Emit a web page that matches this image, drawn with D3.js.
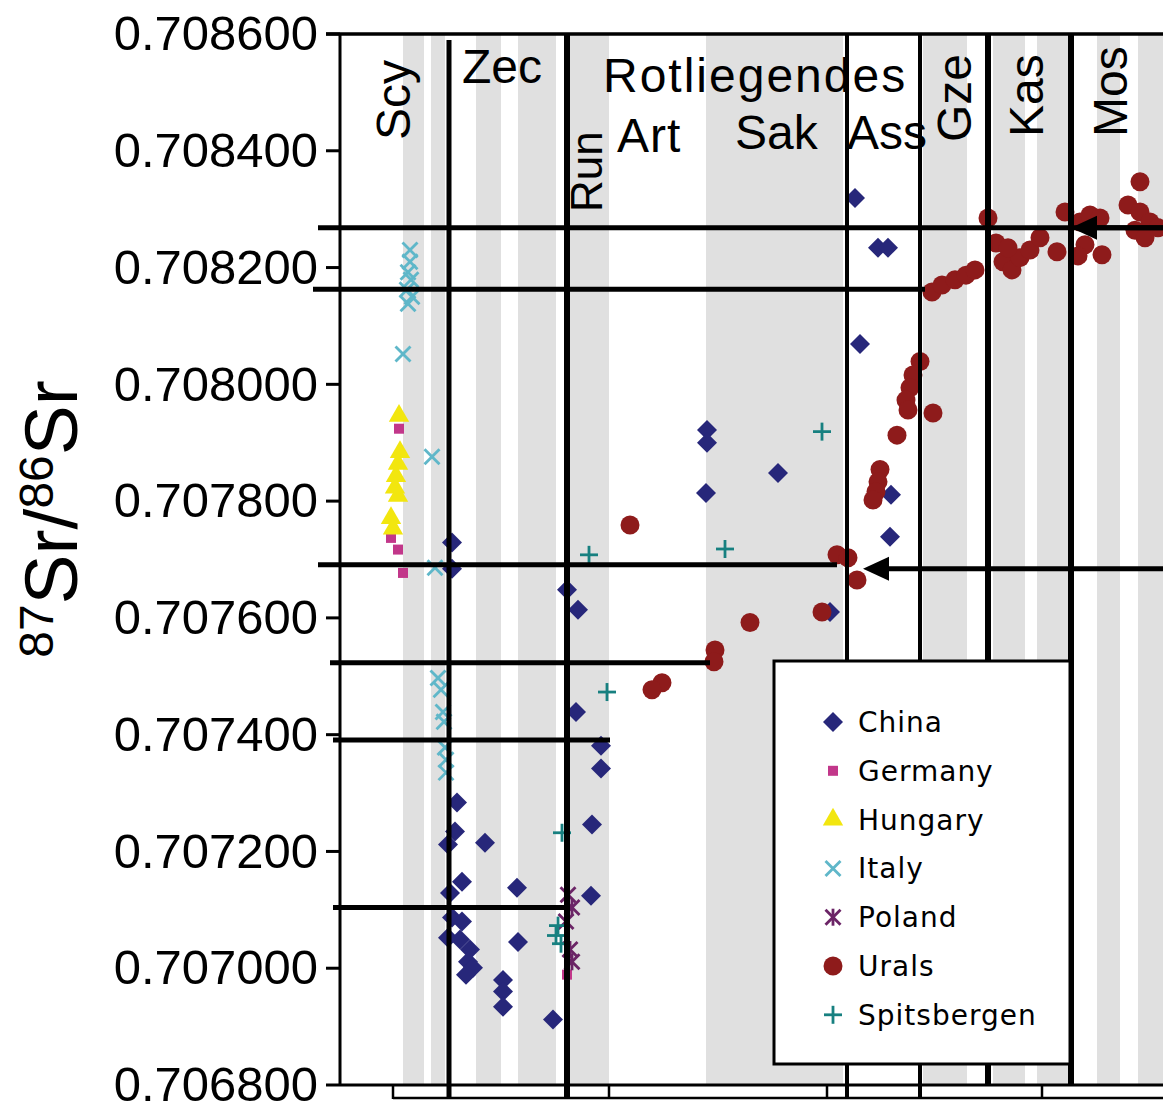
<!DOCTYPE html>
<html>
<head>
<meta charset="utf-8">
<script src="https://cdn.jsdelivr.net/npm/d3@7"></script>
<style>
  body { margin: 0; background: #fff; }
  svg { display: block; font-family: "Liberation Sans", Arial, sans-serif; }
</style>
</head>
<body>
<div id="chart"></div>
<script>
// 87Sr/86Sr curve across Carboniferous - Triassic stages, by region
// x is an age-like axis (Ma, older to the right), y is the Sr ratio

const yTicks = [0.7068, 0.7070, 0.7072, 0.7074, 0.7076, 0.7078, 0.7080, 0.7082, 0.7084, 0.7086];

// [age, ratio]
const china = [
    [301.5, 0.708319], [303.8, 0.708234], [304.8, 0.708234], [302.0, 0.708069],
    [286.7, 0.707922], [286.7, 0.707900], [286.6, 0.707814], [293.8, 0.707848],
    [305.1, 0.707811], [305.0, 0.707739], [261.2, 0.707729], [261.2, 0.707684],
    [272.7, 0.707648], [273.8, 0.707614], [273.6, 0.707439], [276.1, 0.707381],
    [276.1, 0.707342], [261.7, 0.707284], [261.5, 0.707234], [260.8, 0.707212],
    [264.5, 0.707215], [275.2, 0.707246], [262.2, 0.707148], [261.0, 0.707129],
    [267.7, 0.707138], [275.1, 0.707124], [261.2, 0.707087], [262.2, 0.707080],
    [260.8, 0.707052], [262.0, 0.707049], [263.0, 0.707032], [262.8, 0.707011],
    [263.3, 0.707001], [262.6, 0.706989], [267.8, 0.707045], [266.3, 0.706980],
    [266.3, 0.706960], [266.3, 0.706934], [271.3, 0.706912], [299.0, 0.707610]
];
const germany = [
    [255.9, 0.707924], [255.1, 0.707737], [255.8, 0.707717], [256.3, 0.707677],
    [272.7, 0.706989]
];
const hungary = [
    [255.9, 0.707946], [256.0, 0.707884], [255.8, 0.707864], [255.6, 0.707843],
    [255.5, 0.707823], [255.8, 0.707809], [255.1, 0.707771], [255.3, 0.707753]
];
const italy = [
    [257.0, 0.708230], [257.0, 0.708210], [256.8, 0.708192], [257.1, 0.708179],
    [256.7, 0.708162], [257.2, 0.708150], [256.8, 0.708138], [256.3, 0.708052],
    [259.2, 0.707876], [259.5, 0.707686], [259.8, 0.707497], [260.1, 0.707477],
    [260.3, 0.707439], [260.4, 0.707422], [260.5, 0.707378], [260.6, 0.707357],
    [260.6, 0.707335]
];
const poland = [
    [272.8, 0.707126], [273.2, 0.707104], [272.6, 0.707080], [273.0, 0.707032],
    [273.2, 0.707011]
];
const urals = [
    [279.0, 0.707759], [287.5, 0.707545], [287.4, 0.707525], [282.2, 0.707489],
    [281.2, 0.707477], [291.0, 0.707592], [298.2, 0.707610], [299.7, 0.707708],
    [300.8, 0.707703], [301.7, 0.707665], [304.0, 0.707854], [303.8, 0.707833],
    [303.6, 0.707816], [303.3, 0.707802], [305.7, 0.707913], [308.0, 0.708039],
    [307.3, 0.708016], [307.0, 0.707994], [306.6, 0.707973], [306.8, 0.707956],
    [309.3, 0.707951], [309.2, 0.708158], [310.2, 0.708170], [311.5, 0.708179],
    [312.6, 0.708187], [313.5, 0.708196], [314.8, 0.708285], [315.6, 0.708242],
    [316.3, 0.708210], [317.2, 0.708196], [318.0, 0.708217], [319.0, 0.708230],
    [320.0, 0.708251], [316.8, 0.708234], [321.7, 0.708227], [322.5, 0.708295],
    [324.0, 0.708278], [325.0, 0.708290], [326.0, 0.708285], [324.5, 0.708239],
    [323.8, 0.708220], [326.2, 0.708222], [330.0, 0.708347], [328.8, 0.708307],
    [330.0, 0.708295], [331.0, 0.708278], [329.5, 0.708264], [331.8, 0.708268],
    [330.5, 0.708251]
];
const spitsbergen = [
    [298.2, 0.707919], [288.5, 0.707718], [274.9, 0.707708], [276.7, 0.707473],
    [272.2, 0.707232], [271.8, 0.707073], [271.6, 0.707056], [272.1, 0.707042]
];

const seriesNames = ['China', 'Germany', 'Hungary', 'Italy', 'Poland', 'Urals', 'Spitsbergen'];
const seriesData = [china, germany, hungary, italy, poland, urals, spitsbergen];
const seriesKinds = ['diamond', 'square', 'triangle', 'x', 'asterisk', 'circle', 'plus'];
const seriesColors = ['#27277a', '#c2378a', '#f2e60f', '#5fb7c9', '#6b2466', '#8e1b1b', '#178080'];

// shaded sub-stage bands [from, to]
const bands = [
    [256.3, 258.4], [259.1, 260.5], [263.6, 266.1], [267.8, 271.6], [273.0, 276.9],
    [286.6, 300.3], [308.3, 312.7], [315.3, 318.5], [319.7, 322.8], [325.7, 328.0],
    [329.8, 332.3]
];
// stage boundaries [age, width]
const boundaries = [[260.9, 5], [272.7, 6], [300.7, 4], [308.0, 4], [314.8, 6], [323.1, 6]];
// ticks of the lower time strip
const stripTicks = [255.3, 260.9, 272.7, 276.9, 298.7, 300.7, 308.0, 320.2];

// reference ratio lines [ratio, fromAge, toAge]
const refLines = [
    [0.708268, 247.8, 332.3],
    [0.708163, 247.3, 308.5],
    [0.707691, 247.8, 299.7],
    [0.707523, 249.0, 287.0],
    [0.707391, 249.3, 277.0],
    [0.707104, 249.3, 272.5]
];
// arrows [ratio, tipAge, fromAge]
const arrows = [
    [0.708268, 323.1, 332.3],
    [0.707684, 302.3, 332.3]
];

// stage labels
const hLabels = [['Zec', 262.2, 83, 0], ['Rotliegendes', 276.3, 92, 2], ['Art', 277.7, 152, 1], ['Sak', 289.5, 149, 0], ['Ass', 300.7, 149, 0]];
const vLabels = [['Scy', 257.0, 140, 48], ['Run', 276.2, 212, 44], ['Gze', 313.1, 142, 48], ['Kas', 320.3, 137, 48], ['Mos', 328.7, 137, 48]];

const width = 1163, height = 1106;
const plotLeft = 340, plotRight = 1163, plotTop = 34, plotBottom = 1085;

const svg = d3.select('#chart').append('svg')
    .attr('width', width)
    .attr('height', height);

svg.append('rect').attr('width', width).attr('height', height).attr('fill', '#fff');

const x = d3.scaleLinear().domain([250, 332.3]).range([plotLeft, plotRight]);
const y = d3.scaleLinear().domain([0.7068, 0.7086]).range([plotBottom, plotTop]);

// Gray bands
svg.append('g').selectAll('rect')
    .data(bands)
    .enter().append('rect')
    .attr('x', d => x(d[0]))
    .attr('width', d => x(d[1]) - x(d[0]))
    .attr('y', plotTop)
    .attr('height', plotBottom - plotTop)
    .attr('fill', '#e0e0e0');

// Markers
function addMarker(g, kind, color) {
    if (kind === 'diamond') {
        g.append('path').attr('d', d3.symbol().type(d3.symbolSquare).size(200)())
            .attr('transform', 'rotate(45)').attr('fill', color);
    } else if (kind === 'square') {
        g.append('rect').attr('x', -5).attr('y', -5).attr('width', 10).attr('height', 10).attr('fill', color);
    } else if (kind === 'triangle') {
        g.append('path').attr('d', d3.symbol().type(d3.symbolTriangle).size(180)()).attr('fill', color);
    } else if (kind === 'circle') {
        g.append('circle').attr('r', 9.5).attr('fill', color);
    } else {
        const r = 7.5;
        let segs = [];
        if (kind === 'x' || kind === 'asterisk') segs = [[-r, -r, r, r], [-r, r, r, -r]];
        if (kind === 'asterisk') segs.push([0, -r - 1, 0, r + 1]);
        if (kind === 'plus') segs = [[-9, 0, 9, 0], [0, -9, 0, 9]];
        segs.forEach(s => {
            g.append('line')
                .attr('x1', s[0]).attr('y1', s[1]).attr('x2', s[2]).attr('y2', s[3])
                .attr('stroke', color).attr('stroke-width', 2.8);
        });
    }
}

seriesData.forEach((pts, i) => {
    svg.append('g').selectAll('g')
        .data(pts)
        .enter().append('g')
        .attr('transform', d => `translate(${x(d[0])},${y(d[1])})`)
        .each(function() { addMarker(d3.select(this), seriesKinds[i], seriesColors[i]); });
});

// Stage boundaries
svg.append('g').selectAll('line')
    .data(boundaries)
    .enter().append('line')
    .attr('x1', d => x(d[0])).attr('x2', d => x(d[0]))
    .attr('y1', (d, i) => i === 0 ? 40 : plotTop)
    .attr('y2', (d, i) => i < 4 ? 1098 : plotBottom)
    .attr('stroke', '#000')
    .attr('stroke-width', d => d[1]);

// Reference lines
svg.append('g').selectAll('line')
    .data(refLines)
    .enter().append('line')
    .attr('x1', d => x(d[1])).attr('x2', d => x(d[2]))
    .attr('y1', d => y(d[0])).attr('y2', d => y(d[0]))
    .attr('stroke', '#000')
    .attr('stroke-width', 5);

const arrowG = svg.append('g');
arrows.forEach(a => {
    const ty = y(a[0]), tx = x(a[1]);
    arrowG.append('line')
        .attr('x1', tx + 20).attr('x2', x(a[2]))
        .attr('y1', ty).attr('y2', ty)
        .attr('stroke', '#000').attr('stroke-width', 5);
    arrowG.append('path')
        .attr('d', `M${tx},${ty} L${tx + 26},${ty - 12} L${tx + 26},${ty + 12} Z`)
        .attr('fill', '#000');
});

// Axes frame
svg.append('line').attr('x1', plotLeft).attr('x2', plotLeft).attr('y1', plotTop).attr('y2', plotBottom)
    .attr('stroke', '#000').attr('stroke-width', 3);
svg.append('line').attr('x1', 326).attr('x2', plotRight).attr('y1', plotTop).attr('y2', plotTop)
    .attr('stroke', '#000').attr('stroke-width', 3.5);
svg.append('line').attr('x1', plotLeft).attr('x2', plotRight).attr('y1', plotBottom).attr('y2', plotBottom)
    .attr('stroke', '#000').attr('stroke-width', 3);

// Lower time strip
svg.append('line').attr('x1', x(stripTicks[0])).attr('x2', plotRight).attr('y1', 1098).attr('y2', 1098)
    .attr('stroke', '#000').attr('stroke-width', 2.5);
svg.append('g').selectAll('line')
    .data(stripTicks)
    .enter().append('line')
    .attr('x1', d => x(d)).attr('x2', d => x(d))
    .attr('y1', plotBottom).attr('y2', 1099)
    .attr('stroke', '#000').attr('stroke-width', 2.5);

// Y axis
const yAxis = svg.append('g');
yAxis.selectAll('line')
    .data(yTicks)
    .enter().append('line')
    .attr('x1', 326).attr('x2', plotLeft)
    .attr('y1', d => y(d)).attr('y2', d => y(d))
    .attr('stroke', '#000').attr('stroke-width', 3);
yAxis.selectAll('text')
    .data(yTicks)
    .enter().append('text')
    .attr('x', 318)
    .attr('y', d => y(d))
    .attr('dy', '0.33em')
    .attr('text-anchor', 'end')
    .attr('font-size', '49px')
    .attr('fill', '#000')
    .text(d3.format('.6f'));

// Y axis title
const title = svg.append('text')
    .attr('transform', 'translate(77,519) rotate(-90)')
    .attr('text-anchor', 'middle')
    .attr('font-size', '75px')
    .attr('fill', '#000');
title.append('tspan').attr('font-size', '48px').attr('dy', -24).text('87');
title.append('tspan').attr('dy', 24).text('Sr/');
title.append('tspan').attr('font-size', '48px').attr('dy', -24).text('86');
title.append('tspan').attr('dy', 24).text('Sr');

// Stage labels
svg.append('g').selectAll('text')
    .data(hLabels)
    .enter().append('text')
    .attr('x', d => x(d[1]))
    .attr('y', d => d[2])
    .attr('font-size', '48px')
    .attr('letter-spacing', d => d[3] + 'px')
    .attr('fill', '#000')
    .text(d => d[0]);

svg.append('g').selectAll('text')
    .data(vLabels)
    .enter().append('text')
    .attr('transform', d => `translate(${x(d[1])},${d[2]}) rotate(-90)`)
    .attr('font-size', d => d[3] + 'px')
    .attr('fill', '#000')
    .text(d => d[0]);

// Legend
const legend = svg.append('g');
legend.append('rect')
    .attr('x', 774).attr('y', 661)
    .attr('width', 296).attr('height', 403)
    .attr('fill', '#fff')
    .attr('stroke', '#000')
    .attr('stroke-width', 3);

const rows = legend.selectAll('.row')
    .data(seriesNames)
    .enter().append('g')
    .attr('class', 'row')
    .attr('transform', (d, i) => `translate(833,${722 + i * 48.8})`);

rows.each(function(d, i) { addMarker(d3.select(this), seriesKinds[i], seriesColors[i]); });

rows.append('text')
    .attr('x', 25)
    .attr('dy', '0.36em')
    .attr('font-family', '"DejaVu Sans", sans-serif')
    .attr('font-size', '28px')
    .attr('letter-spacing', '1px')
    .attr('fill', '#000')
    .text(d => d);
</script>
</body>
</html>
